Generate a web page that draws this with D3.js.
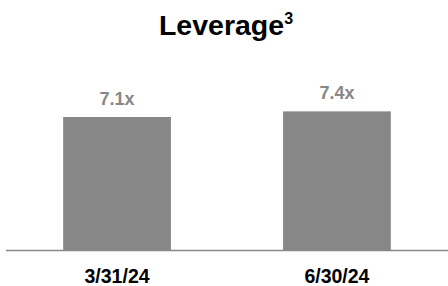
<!DOCTYPE html>
<html>
<head>
<meta charset="utf-8">
<script src="https://cdn.jsdelivr.net/npm/d3@7"></script>
<style>
  body { margin: 0; background: #fff; }
  svg { display: block; font-family: Arial, "Liberation Sans", sans-serif; }
</style>
</head>
<body>
<div id="chart"></div>
<script>
const categories = ['3/31/24', '6/30/24'];
const values = [7.1, 7.4];
const valueLabels = ['7.1x', '7.4x'];

const W = 448, H = 286;
const baseY = 250;

const svg = d3.select('#chart').append('svg').attr('width', W).attr('height', H);

// Title with superscript
const title = svg.append('text')
  .attr('x', 226).attr('y', 35)
  .attr('text-anchor', 'middle')
  .attr('font-size', 28.5)
  .attr('font-weight', 'bold')
  .attr('fill', '#000');
title.append('tspan').text('Leverage');
title.append('tspan').attr('dy', -11).attr('font-size', 16).text('3');

const x = d3.scaleBand()
  .domain(categories)
  .range([6, 448])
  .paddingInner(0.51)
  .paddingOuter(0.26);

const y = d3.scaleLinear()
  .domain([0, 7.1])
  .range([baseY, 117]);

svg.selectAll('rect.bar')
  .data(values)
  .join('rect')
  .attr('class', 'bar')
  .attr('x', (d, i) => x(categories[i]))
  .attr('y', d => y(d))
  .attr('width', x.bandwidth())
  .attr('height', d => baseY - y(d))
  .attr('fill', '#878787');

svg.selectAll('text.val')
  .data(values)
  .join('text')
  .attr('class', 'val')
  .attr('x', (d, i) => x(categories[i]) + x.bandwidth() / 2)
  .attr('y', d => y(d) - 12)
  .attr('text-anchor', 'middle')
  .attr('font-size', 18)
  .attr('font-weight', 'bold')
  .attr('fill', '#888')
  .text((d, i) => valueLabels[i]);

// baseline
svg.append('line')
  .attr('x1', 6).attr('x2', W)
  .attr('y1', baseY + 0.5).attr('y2', baseY + 0.5)
  .attr('stroke', '#888').attr('stroke-width', 1.5);

svg.selectAll('text.cat')
  .data(categories)
  .join('text')
  .attr('class', 'cat')
  .attr('x', d => x(d) + x.bandwidth() / 2)
  .attr('y', 283)
  .attr('text-anchor', 'middle')
  .attr('font-size', 19.5)
  .attr('font-weight', 'bold')
  .attr('fill', '#000')
  .text(d => d);
</script>
</body>
</html>
